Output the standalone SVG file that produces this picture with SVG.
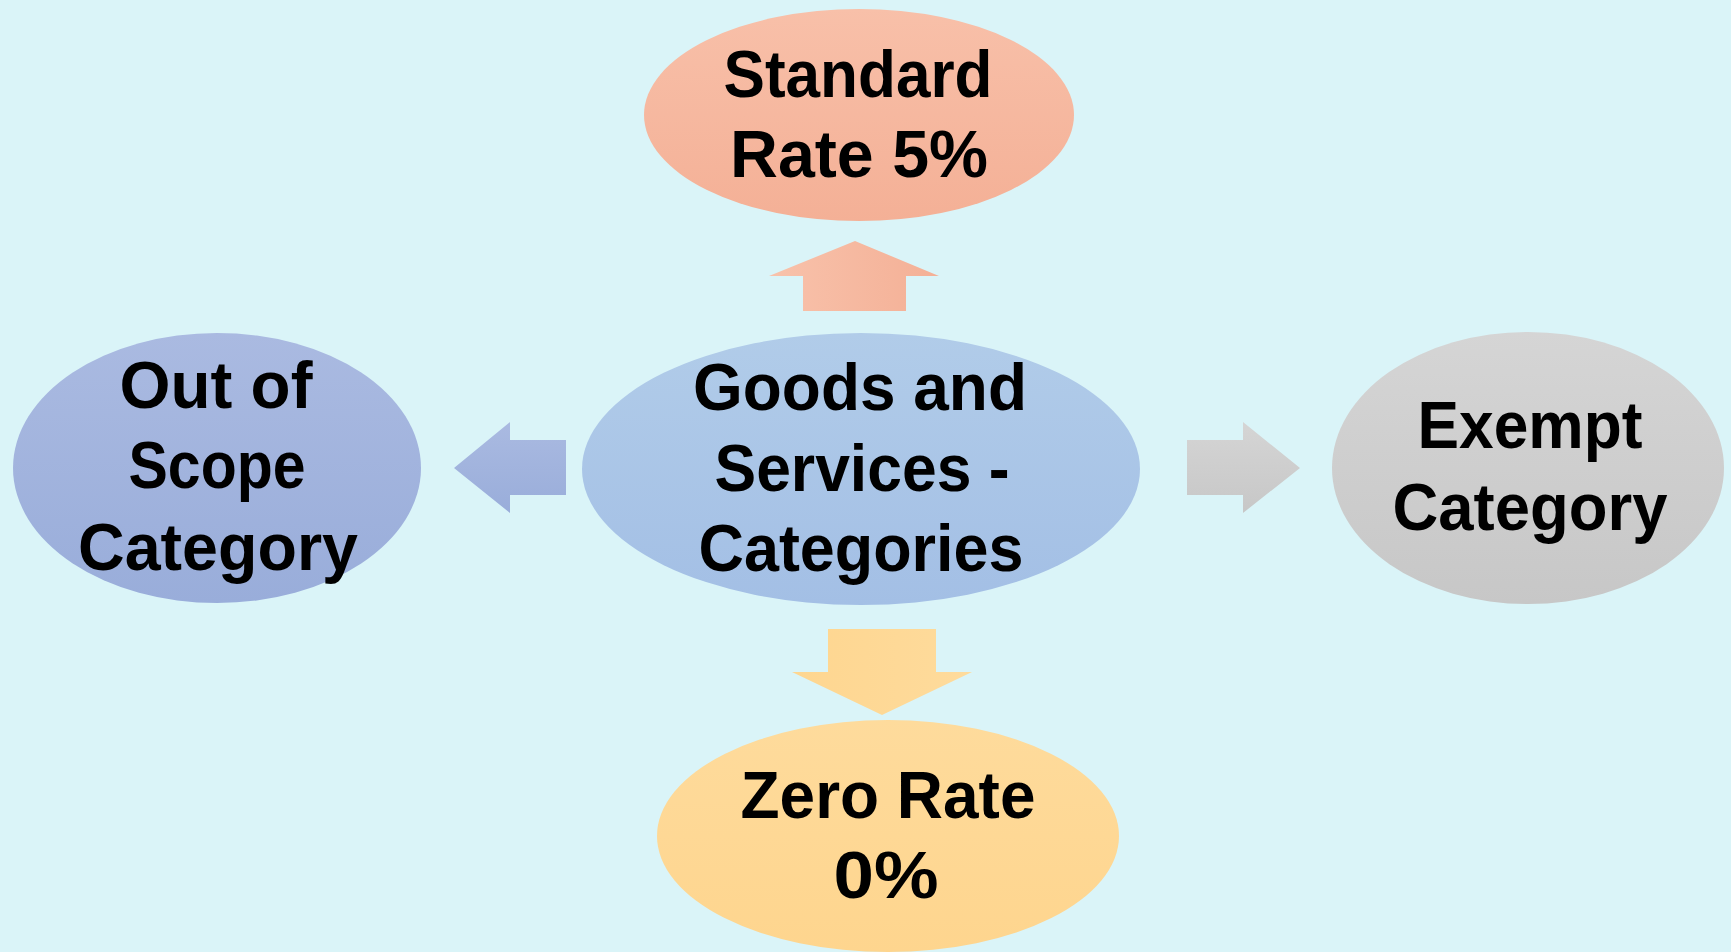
<svg xmlns="http://www.w3.org/2000/svg" width="1731" height="952" viewBox="0 0 1731 952">
  <defs>
    <linearGradient id="gStd" x1="0" y1="0" x2="0" y2="1"><stop offset="0" stop-color="#F8C0A9"/><stop offset="1" stop-color="#F4B096"/></linearGradient>
    <linearGradient id="gStdA" x1="0" y1="0" x2="1" y2="0"><stop offset="0" stop-color="#F8C2AB"/><stop offset="1" stop-color="#F4B096"/></linearGradient>
    <linearGradient id="gCen" x1="0" y1="0" x2="0" y2="1"><stop offset="0" stop-color="#B1CCE9"/><stop offset="1" stop-color="#A3BFE5"/></linearGradient>
    <linearGradient id="gOut" x1="0" y1="0" x2="0" y2="1"><stop offset="0" stop-color="#AABAE1"/><stop offset="1" stop-color="#99ADDA"/></linearGradient>
    <linearGradient id="gExm" x1="0" y1="0" x2="0" y2="1"><stop offset="0" stop-color="#D5D5D5"/><stop offset="1" stop-color="#C7C7C7"/></linearGradient>
    <linearGradient id="gZer" x1="0" y1="0" x2="0" y2="1"><stop offset="0" stop-color="#FEDB9C"/><stop offset="1" stop-color="#FED58E"/></linearGradient>
    <linearGradient id="gZerA" x1="0" y1="0" x2="1" y2="0"><stop offset="0" stop-color="#FED690"/><stop offset="1" stop-color="#FEDB9C"/></linearGradient>
  </defs>
  <style>
    .t { font-family: "Liberation Sans", Arial, sans-serif; font-weight: bold; font-size: 66px; fill: #000; text-anchor: middle; }
  </style>
  <rect width="1731" height="952" fill="#DAF4F8"/>
  <g id="connectors">
    <polygon points="855,241 939,276 906,276 906,311 803,311 803,276 769,276" fill="url(#gStdA)"/>
    <polygon points="454,468 510,422 510,440 566,440 566,495 510,495 510,513" fill="url(#gOut)"/>
    <polygon points="1300,468 1243,422 1243,440 1187,440 1187,495 1243,495 1243,513" fill="url(#gExm)"/>
    <polygon points="882,715 972,672 936,672 936,629 828,629 828,672 792,672" fill="url(#gZerA)"/>
  </g>
  <g id="node-standard">
    <ellipse cx="859" cy="115" rx="215" ry="106" fill="url(#gStd)"/>
    <text class="t" x="858" y="97" textLength="269" lengthAdjust="spacingAndGlyphs">Standard</text>
    <text class="t" x="859" y="177" textLength="258" lengthAdjust="spacingAndGlyphs">Rate 5%</text>
  </g>
  <g id="node-center">
    <ellipse cx="861" cy="469" rx="279" ry="136" fill="url(#gCen)"/>
    <text class="t" x="860" y="410" textLength="334" lengthAdjust="spacingAndGlyphs">Goods and</text>
    <text class="t" x="862" y="491" textLength="295" lengthAdjust="spacingAndGlyphs">Services -</text>
    <text class="t" x="861" y="571" textLength="325" lengthAdjust="spacingAndGlyphs">Categories</text>
  </g>
  <g id="node-out">
    <ellipse cx="217" cy="468" rx="204" ry="135" fill="url(#gOut)"/>
    <text class="t" x="216" y="408" textLength="193" lengthAdjust="spacingAndGlyphs">Out of</text>
    <text class="t" x="217" y="488" textLength="177" lengthAdjust="spacingAndGlyphs">Scope</text>
    <text class="t" x="218" y="570" textLength="280" lengthAdjust="spacingAndGlyphs">Category</text>
  </g>
  <g id="node-exempt">
    <ellipse cx="1528" cy="468" rx="196" ry="136" fill="url(#gExm)"/>
    <text class="t" x="1530" y="448" textLength="225" lengthAdjust="spacingAndGlyphs">Exempt</text>
    <text class="t" x="1530" y="530" textLength="275" lengthAdjust="spacingAndGlyphs">Category</text>
  </g>
  <g id="node-zero">
    <ellipse cx="888" cy="836" rx="231" ry="116" fill="url(#gZer)"/>
    <text class="t" x="888" y="818" textLength="295" lengthAdjust="spacingAndGlyphs">Zero Rate</text>
    <text class="t" x="886" y="898" textLength="105" lengthAdjust="spacingAndGlyphs">0%</text>
  </g>
</svg>
